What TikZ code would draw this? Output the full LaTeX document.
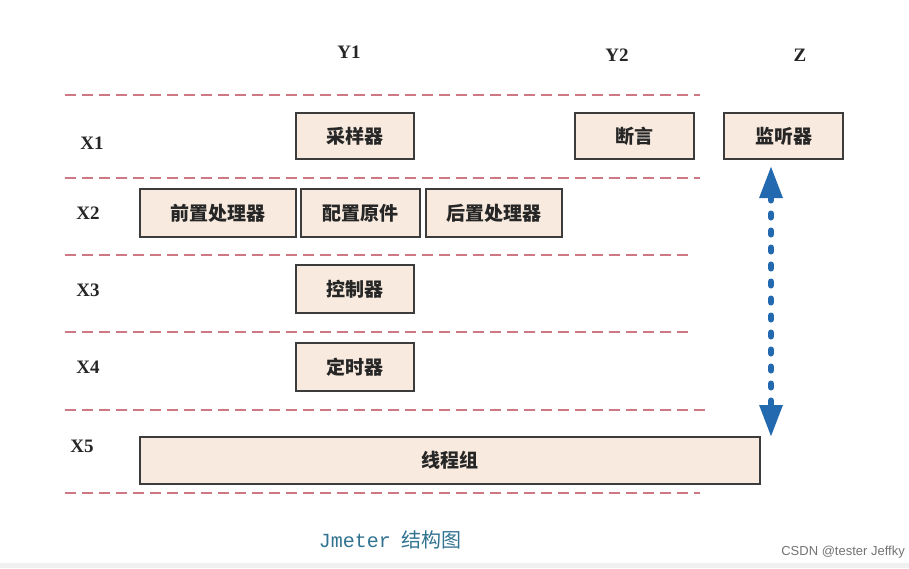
\documentclass[tikz,border=0pt]{standalone}
\usepackage{fontspec}
\setmainfont{Liberation Serif}
\newfontfamily\cjk{Noto Sans CJK SC}
\newfontfamily\monof{Liberation Mono}
\newfontfamily\sansf{Liberation Sans}
\usetikzlibrary{arrows.meta}
\definecolor{peach}{RGB}{248,234,222}
\definecolor{boxline}{RGB}{60,60,60}
\definecolor{dashred}{RGB}{205,120,130}
\definecolor{arrblue}{RGB}{35,105,175}
\definecolor{capblue}{RGB}{50,115,145}
\begin{document}
\begin{tikzpicture}[x=1pt,y=-1pt,
  compbox/.style={draw=boxline,fill=peach,line width=1.4pt,inner sep=0pt,
    font={\cjk\bfseries\fontsize{19}{21}\selectfont},text=black!85},
  axislabel/.style={inner sep=0pt,font={\bfseries\fontsize{19}{21}\selectfont},text=black!85},
  sepline/.style={dashred,line width=1.4pt,dash pattern=on 11pt off 6pt}]
\useasboundingbox (0,0) rectangle (909,568);
\fill[white] (0,0) rectangle (909,568);
\fill[black!6] (0,563) rectangle (909,568);
% separator lines
\coordinate (l1a) at (65,95);  \coordinate (l1b) at (700,95);
\coordinate (l2a) at (65,178); \coordinate (l2b) at (700,178);
\coordinate (l3a) at (65,255); \coordinate (l3b) at (692,255);
\coordinate (l4a) at (65,332); \coordinate (l4b) at (692,332);
\coordinate (l5a) at (65,410); \coordinate (l5b) at (705,410);
\coordinate (l6a) at (65,493); \coordinate (l6b) at (700,493);
\foreach \i in {1,...,6} \draw[sepline] (l\i a) -- (l\i b);
% axis labels
\node[axislabel] (y1) at (349,52) {Y1};
\node[axislabel] (y2) at (617,55) {Y2};
\node[axislabel] (z) at (800,55) {Z};
\node[axislabel] (x1) at (92,143) {X1};
\node[axislabel] (x2) at (88,213) {X2};
\node[axislabel] (x3) at (88,290) {X3};
\node[axislabel] (x4) at (88,367) {X4};
\node[axislabel] (x5) at (82,446) {X5};
% boxes
\node[compbox,minimum width=118pt,minimum height=46pt] (cyq) at (355,136) {采样器};
\node[compbox,minimum width=119pt,minimum height=46pt] (dy) at (634.5,136) {断言};
\node[compbox,minimum width=119pt,minimum height=46pt] (jtq) at (783.5,136) {监听器};
\node[compbox,minimum width=156pt,minimum height=48pt] (qz) at (218,213) {前置处理器};
\node[compbox,minimum width=119pt,minimum height=48pt] (pz) at (360.5,213) {配置原件};
\node[compbox,minimum width=136pt,minimum height=48pt] (hz) at (494,213) {后置处理器};
\node[compbox,minimum width=118pt,minimum height=48pt] (kz) at (355,289) {控制器};
\node[compbox,minimum width=118pt,minimum height=48pt] (ds) at (355,367) {定时器};
\node[compbox,minimum width=620pt,minimum height=47pt] (xc) at (450,460.5) {线程组};
% arrow
\coordinate (atop) at (771,166);
\coordinate (abot) at (771,437);
\draw[arrblue,line width=6pt,line cap=round,dash pattern=on 4pt off 13pt,
  {Triangle[width=22pt,length=32pt]}-{Triangle[width=22pt,length=32pt]}] (atop) -- (abot);
% caption
\node[inner sep=0pt,text=capblue] (cap) at (390,540) {{\monof\fontsize{20}{22}\selectfont Jmeter}\hspace{10pt}{\cjk\fontsize{20}{22}\selectfont 结构图}};
\node[inner sep=0pt,text=black!55,anchor=east] (wm) at (905,552) {\sansf\fontsize{13}{15}\selectfont CSDN @tester Jeffky};
\end{tikzpicture}
\end{document}
